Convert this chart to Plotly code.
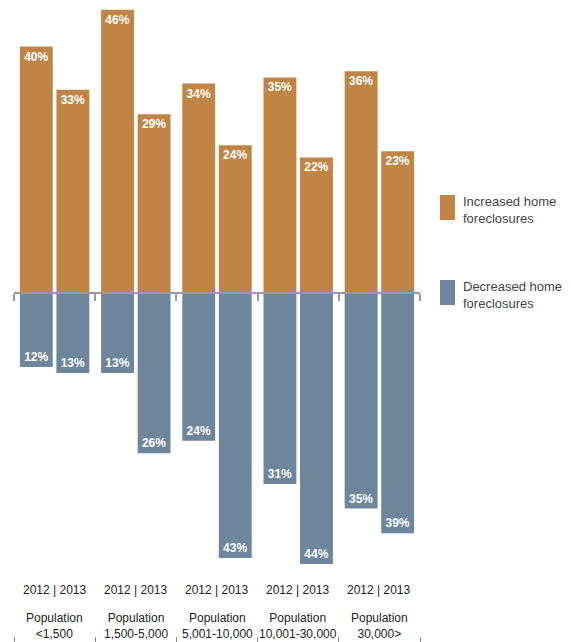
import plotly.graph_objects as go

groups = ["Population<br><1,500", "Population<br>1,500-5,000", "Population<br>5,001-10,000",
          "Population<br>10,001-30,000", "Population<br>30,000>"]
years = ["2012", "2013"]
increased_2012 = [40, 46, 34, 35, 36]
increased_2013 = [33, 29, 24, 22, 23]
decreased_2012 = [12, 13, 24, 31, 35]
decreased_2013 = [13, 26, 43, 44, 39]

ORANGE = "#C08445"
BLUE = "#6E869B"
FONT = "Liberation Sans, Arial, sans-serif"

# page body has an 8px margin: figure pixel = window pixel - 8
OFF = 8
W, H = 571 - OFF, 642 - OFF

n = len(groups)
idx = list(range(n))
off = 0.225
w = 0.405

fig = go.Figure()

def add(xs, vals, color, sign):
    fig.add_trace(go.Bar(
        x=xs, y=[sign * v for v in vals], width=w, marker=dict(color=color, line=dict(width=0)),
        text=[f"{v}%" for v in vals], textposition="inside", insidetextanchor="end",
        textfont=dict(family=FONT, size=12, color="white", weight="bold"),
        textangle=0, showlegend=False, hoverinfo="skip", cliponaxis=False))

x12 = [i - off for i in idx]
x13 = [i + off for i in idx]
add(x12, increased_2012, ORANGE, 1)
add(x13, increased_2013, ORANGE, 1)
add(x12, decreased_2012, BLUE, -1)
add(x13, decreased_2013, BLUE, -1)

fig.add_trace(go.Scatter(x=[-0.5, n - 0.5], y=[0, 0], xaxis="x2", mode="markers",
                         marker=dict(opacity=0), showlegend=False, hoverinfo="skip"))

left_px, right_px = 14 - OFF, 420 - OFF
bmargin = 6
plot_h = H - bmargin
zero_px = 293 - OFF
ppu = 6.16
ytop = zero_px / ppu
ybot = -(plot_h - zero_px) / ppu

boundaries = [i - 0.5 for i in range(n + 1)]

fig.update_layout(
    width=W, height=H,
    margin=dict(l=left_px, r=W - right_px, t=0, b=bmargin),
    plot_bgcolor="white", paper_bgcolor="white",
    barmode="overlay",
    xaxis=dict(range=[-0.5, n - 0.5], anchor="free", position=(plot_h - zero_px) / plot_h,
               showline=True, linecolor="#9a9a9a", linewidth=2,
               ticks="outside", tickvals=boundaries, ticklen=7, tickwidth=2, tickcolor="#9a9a9a",
               showticklabels=False, showgrid=False, zeroline=False),
    xaxis2=dict(range=[-0.5, n - 0.5], overlaying="x", anchor="y", side="bottom",
                showline=False, ticks="outside", tickvals=boundaries, ticklen=6, tickwidth=1,
                tickcolor="#888888", showticklabels=False, showgrid=False, zeroline=False),
    yaxis=dict(range=[ybot, ytop], visible=False, showgrid=False, zeroline=False),
    font=dict(family=FONT),
)

def py(t):
    """window pixel y -> paper fraction"""
    return (plot_h - (t - OFF)) / plot_h

def px(t):
    return ((t - OFF) - left_px) / (right_px - left_px)

for i in idx:
    fig.add_annotation(x=i, y=py(590), xref="x", yref="paper", yanchor="middle",
                       text=" | ".join(years), showarrow=False,
                       font=dict(family=FONT, size=12, color="#222222"))
    fig.add_annotation(x=i, y=py(625.5), xref="x", yref="paper", yanchor="middle",
                       text=groups[i], showarrow=False,
                       font=dict(family=FONT, size=12, color="#222222"))

legend_items = [("Increased home<br>foreclosures", ORANGE, 195, 209.5),
                ("Decreased home<br>foreclosures", BLUE, 280, 295)]
for label, color, top, mid in legend_items:
    fig.add_shape(type="rect", xref="paper", yref="paper",
                  x0=px(440), x1=px(455), y0=py(top), y1=py(top + 25),
                  fillcolor=color, line=dict(width=0))
    fig.add_annotation(xref="paper", yref="paper", x=px(461), y=py(mid),
                       xanchor="left", yanchor="middle", align="left",
                       text=label, showarrow=False,
                       font=dict(family=FONT, size=13, color="#444444"))

fig.write_html("out.html")
